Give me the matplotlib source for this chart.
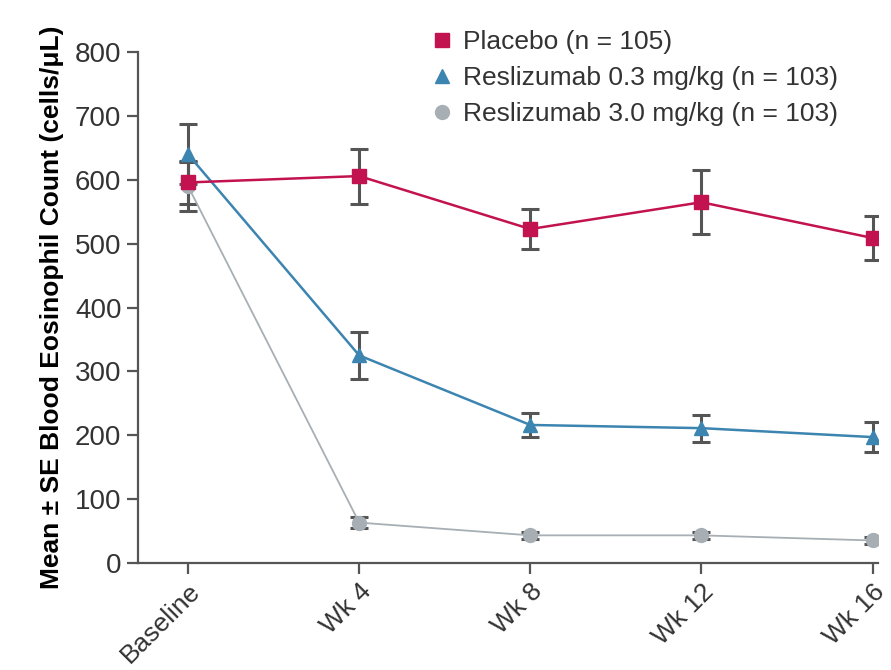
import matplotlib.pyplot as plt
import numpy as np

plt.rcParams['font.family'] = ['Liberation Sans', 'DejaVu Sans']

# Data
timepoints = ["Baseline", "Wk 4", "Wk 8", "Wk 12", "Wk 16"]
placebo = [596, 606, 523, 565, 509]
placebo_se = [33, 43, 32, 50, 34]
resl_03 = [640, 325, 216, 211, 197]
resl_03_se = [47, 37, 19, 21, 23]
resl_30 = [590, 63, 43, 43, 35]
resl_30_se = [38, 8, 5, 5, 5]

labels = ["Placebo (n = 105)",
          "Reslizumab 0.3 mg/kg (n = 103)",
          "Reslizumab 3.0 mg/kg (n = 103)"]
colors = ["#C2124F", "#3C85B1", "#A7AFB4"]
markers = ["s", "^", "o"]
line_w = [1.8, 1.8, 1.3]

fig = plt.figure(figsize=(8.91, 6.70), dpi=100)
ax = fig.add_axes([0.155, 0.16, 0.83, 0.762])

x = np.arange(len(timepoints))
series = [(resl_30, resl_30_se), (resl_03, resl_03_se), (placebo, placebo_se)]
order = [2, 1, 0]
for (vals, se), i in zip(series, order):
    ax.errorbar(x, vals, yerr=se, fmt="none", ecolor="#555555",
                elinewidth=2.2, capsize=6.5, capthick=2.2, zorder=2)
    ax.plot(x, vals, color=colors[i], lw=line_w[i], marker=markers[i],
            ms=10, zorder=3, label=labels[i])

ax.set_xlim(-0.292, 4.03)
ax.set_ylim(0, 800)
ax.set_yticks(range(0, 801, 100))
ax.set_xticks(x)
ax.set_xticklabels(timepoints, rotation=45, ha="right", rotation_mode="anchor")

for s in ["top", "right"]:
    ax.spines[s].set_visible(False)
for s in ["left", "bottom"]:
    ax.spines[s].set_color("#555555")
    ax.spines[s].set_linewidth(1.6)
ax.tick_params(axis="both", direction="out", length=8, width=1.6,
               color="#555555", labelsize=20, labelcolor="#333333", pad=4)
ax.tick_params(axis="x", labelsize=19)

ax.set_ylabel("Mean ± SE Blood Eosinophil Count (cells/μL)",
              fontsize=19, fontweight="bold", labelpad=8)

leg_handles = [plt.Line2D([], [], ls="none", marker=markers[i], color=colors[i], ms=10)
               for i in range(3)]
fig.legend(leg_handles, labels, loc="upper left", bbox_to_anchor=(0.455, 0.99),
           frameon=False, fontsize=19, handletextpad=0.3, labelspacing=0.45,
           handlelength=1.0, labelcolor="#333333")

fig.savefig("out.png", dpi=100)
